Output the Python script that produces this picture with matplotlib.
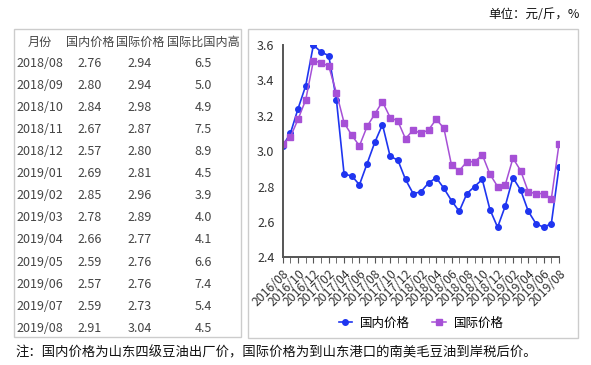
import matplotlib
matplotlib.use("Agg")
import matplotlib.pyplot as plt
from matplotlib.patches import Rectangle

plt.rcParams['font.family'] = ['Noto Sans CJK SC', 'DejaVu Sans']

# 左侧表格
months = ['2018/08', '2018/09', '2018/10', '2018/11', '2018/12', '2019/01', '2019/02',
          '2019/03', '2019/04', '2019/05', '2019/06', '2019/07', '2019/08']
dom_tab = ['2.76', '2.80', '2.84', '2.67', '2.57', '2.69', '2.85', '2.78', '2.66', '2.59', '2.57', '2.59', '2.91']
intl_tab = ['2.94', '2.94', '2.98', '2.87', '2.80', '2.81', '2.96', '2.89', '2.77', '2.76', '2.76', '2.73', '3.04']
diff_tab = ['6.5', '5.0', '4.9', '7.5', '8.9', '4.5', '3.9', '4.0', '4.1', '6.6', '7.4', '5.4', '4.5']
headers = ['月份', '国内价格', '国际价格', '国际比国内高']

# 右侧折线图 2016/08 - 2019/08
x_labels = ['2016/08', '2016/10', '2016/12', '2017/02', '2017/04', '2017/06', '2017/08', '2017/10',
            '2017/12', '2018/02', '2018/04', '2018/06', '2018/08', '2018/10', '2018/12', '2019/02',
            '2019/04', '2019/06', '2019/08']
domestic = [3.03, 3.10, 3.24, 3.37, 3.60, 3.56, 3.54, 3.29, 2.87, 2.86, 2.81, 2.93, 3.05,
            3.15, 2.97, 2.95, 2.84, 2.76, 2.77, 2.82, 2.85, 2.79, 2.72, 2.66,
            2.76, 2.80, 2.84, 2.67, 2.57, 2.69, 2.85, 2.78, 2.66, 2.59, 2.57, 2.59, 2.91]
international = [3.04, 3.08, 3.18, 3.29, 3.51, 3.50, 3.48, 3.33, 3.16, 3.09, 3.03, 3.14, 3.21,
                 3.28, 3.19, 3.17, 3.07, 3.12, 3.10, 3.12, 3.18, 3.13, 2.92, 2.89,
                 2.94, 2.94, 2.98, 2.87, 2.80, 2.81, 2.96, 2.89, 2.77, 2.76, 2.76, 2.73, 3.04]

W, H = 591, 365
fig = plt.figure(figsize=(W / 100, H / 100), dpi=100)

def fx(px):
    return px / W

def fy(py):
    return 1 - py / H

# boxes
fig.patches.append(Rectangle((fx(14), fy(337)), fx(241) - fx(14), fy(29) - fy(337),
                             transform=fig.transFigure, fill=False, ec='#cccccc', lw=1))
fig.patches.append(Rectangle((fx(248), fy(338)), fx(578) - fx(248), fy(29) - fy(338),
                             transform=fig.transFigure, fill=False, ec='#cccccc', lw=1))

tc = '#444444'
head_x = [40, 90, 140, 203]
for hx, h in zip(head_x, headers):
    fig.text(fx(hx), fy(42), h, ha='center', va='center', fontsize=8.7, color=tc)
for i in range(len(months)):
    y = fy(63.3 + 22.08 * i)
    fig.text(fx(16), y, months[i], ha='left', va='center', fontsize=9, color=tc)
    fig.text(fx(89.5), y, dom_tab[i], ha='center', va='center', fontsize=9, color=tc)
    fig.text(fx(140), y, intl_tab[i], ha='center', va='center', fontsize=9, color=tc)
    fig.text(fx(203), y, diff_tab[i], ha='center', va='center', fontsize=9, color=tc)

fig.text(fx(580), fy(15), '单位：元/斤，%', ha='right', va='center', fontsize=9, color='#111111')
fig.text(fx(15), fy(352), '注：国内价格为山东四级豆油出厂价，国际价格为到山东港口的南美毛豆油到岸税后价。',
         ha='left', va='center', fontsize=9.6, color='#111111')

ax = fig.add_axes([fx(282.7), fy(257.3), fx(559) - fx(282.7), fy(45) - fy(257.3)])
x = list(range(len(domestic)))
ax.plot(x, domestic, color='#1f35f0', marker='o', markersize=4, lw=1.2, label='国内价格')
ax.plot(x, international, color='#a650d6', marker='s', markersize=3.8, lw=1.1, label='国际价格')
ax.set_xlim(0, 36)
ax.set_ylim(2.4, 3.6)
ax.set_yticks([2.4, 2.6, 2.8, 3.0, 3.2, 3.4, 3.6])
ax.set_yticklabels(['2.4', '2.6', '2.8', '3.0', '3.2', '3.4', '3.6'], fontsize=9, color='#333333')
ax.tick_params(axis='y', length=0, pad=6)
ax.set_xticks(x, minor=True)
ax.set_xticks(list(range(0, 37, 2)))
ax.set_xticklabels(x_labels, rotation=45, ha='right', rotation_mode='anchor', fontsize=8.8, color='#333333')
ax.tick_params(axis='x', which='both', length=4, color='#555555', direction='out', pad=3)
for s in ['top', 'right']:
    ax.spines[s].set_visible(False)
for s in ['left', 'bottom']:
    ax.spines[s].set_color('#555555')
    ax.spines[s].set_linewidth(1.4)
ax.patch.set_alpha(0)

fig.legend(loc='center', bbox_to_anchor=(fx(421), fy(323)), ncol=2, frameon=False,
           fontsize=9, handlelength=1.1, columnspacing=1.8, handletextpad=0.6)

fig.savefig('out.png', dpi=100)
